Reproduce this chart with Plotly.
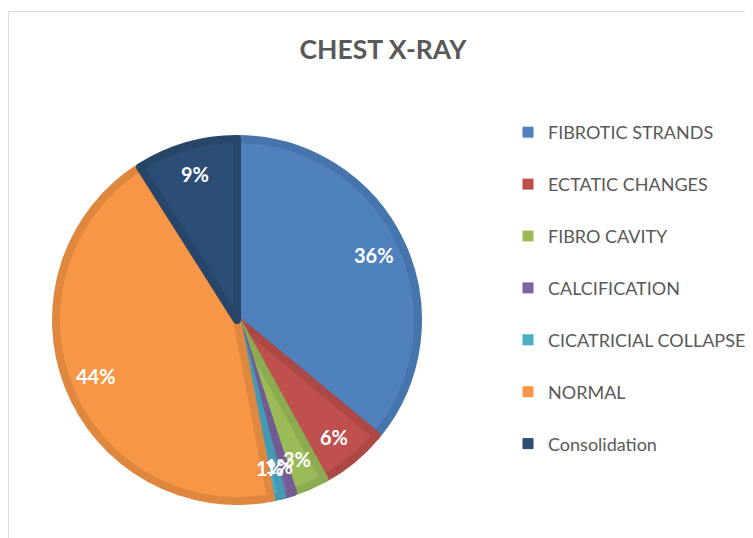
import math
import plotly.graph_objects as go

labels = ["FIBROTIC STRANDS", "ECTATIC CHANGES", "FIBRO CAVITY", "CALCIFICATION",
          "CICATRICIAL COLLAPSE", "NORMAL", "Consolidation"]
values = [36, 6, 3, 1, 1, 44, 9]
fill_colors = ["#4F81BD", "#C0504D", "#9BBB59", "#8064A2", "#4BACC6", "#F79646", "#2C4D75"]
edge_colors = ["#4674AD", "#AE4845", "#8CAA4F", "#735A93", "#439BB3", "#E0873F", "#284669"]

W, H = 753, 538
# the page adds an 8px body margin, so figure coords = page coords - 8
cx, cy, r = 229, 312, 181
label_dist = 0.82 * (r + 4)

fig = go.Figure()
fig.add_trace(go.Pie(
    labels=labels, values=values, sort=False, direction="clockwise", rotation=0,
    marker=dict(colors=fill_colors, line=dict(color=edge_colors, width=8)),
    textinfo="none",
    domain=dict(x=[(cx - r) / W, (cx + r) / W], y=[1 - (cy + r) / H, 1 - (cy - r) / H]),
    showlegend=False, hoverinfo="label+percent",
))

# data labels placed along each slice's mid-angle
total = sum(values)
annotations = []
cum = 0
for v in values:
    mid = (cum + v / 2) / total * 2 * math.pi
    cum += v
    px = cx + label_dist * math.sin(mid)
    py = cy - label_dist * math.cos(mid)
    annotations.append(dict(
        x=px / W, y=1 - py / H, xref="paper", yref="paper", showarrow=False,
        text=f"{round(v / total * 100)}%", xanchor="center", yanchor="middle",
        font=dict(family="Lato", size=20, color="white", weight="bold"),
    ))

for lab, col in zip(labels, fill_colors):
    fig.add_trace(go.Scatter(
        x=[None], y=[None], mode="markers", name=lab, legendgroup=lab,
        marker=dict(symbol="square", size=11, color=col),
        showlegend=True,
    ))

fig.update_layout(
    width=W, height=H,
    margin=dict(l=0, r=0, t=0, b=0),
    paper_bgcolor="white", plot_bgcolor="white",
    title=dict(text="<b>CHEST X-RAY</b>", x=375 / W, xanchor="center", y=1 - 42 / H, yanchor="middle",
               font=dict(family="Lato", size=26.5, color="#595959")),
    legend=dict(x=500 / W, xanchor="left", y=1 - 106 / H, yanchor="top",
                font=dict(family="Lato", size=18, color="#595959"),
                tracegroupgap=25.5, bgcolor="rgba(0,0,0,0)"),
    annotations=annotations,
    xaxis=dict(visible=False), yaxis=dict(visible=False),
    shapes=[dict(type="rect", xref="paper", yref="paper",
                 x0=0.5 / W, x1=1.05, y0=-0.05, y1=1 - 3.5 / H,
                 line=dict(color="#D9D9D9", width=1), fillcolor="rgba(0,0,0,0)", layer="below")],
)

fig.write_html("out.html")
